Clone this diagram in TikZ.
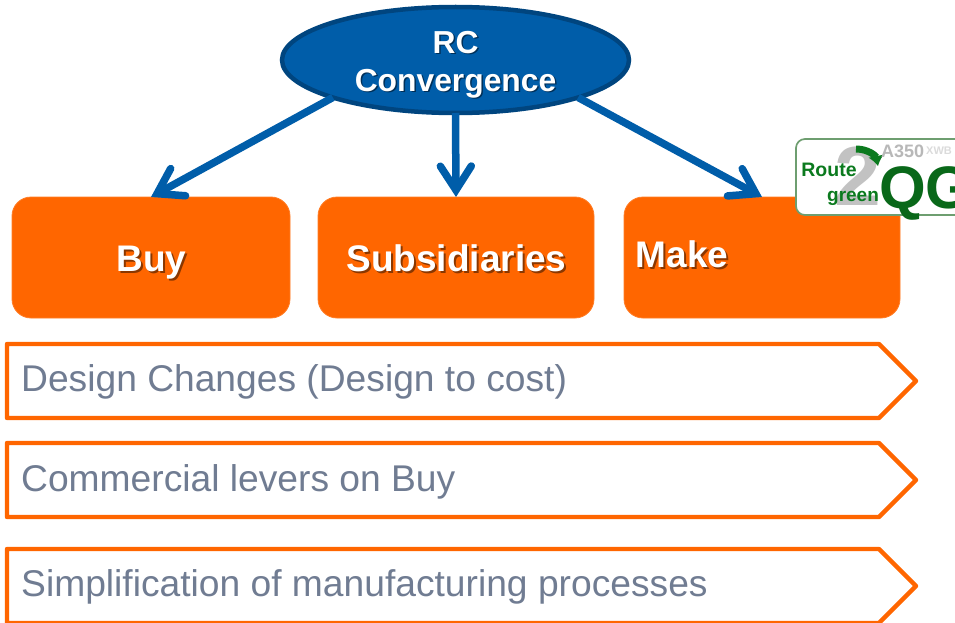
\documentclass[tikz,border=0pt]{standalone}
\usepackage{fontspec}
\setmainfont{Liberation Sans}
\usetikzlibrary{arrows.meta,shapes.geometric}
\definecolor{rcblue}{HTML}{005DA9}
\definecolor{rcedge}{HTML}{00457F}
\definecolor{boxorange}{HTML}{FF6600}
\definecolor{leverline}{HTML}{FF6600}
\definecolor{levertext}{HTML}{707C92}
\definecolor{logogreen}{HTML}{0B7A1E}
\definecolor{logoedge}{HTML}{6E9E70}
\tikzset{
  x=1pt,y=-1pt,
  link/.style={draw=rcblue,line width=7.5pt,-{Straight Barb[length=24pt,width=31pt,line width=7.5pt,line cap=round,line join=miter]}},
  bossbox/.style={ellipse,fill=rcblue,draw=rcedge,line width=4.5pt,minimum width=347pt,minimum height=106pt,inner sep=0pt,outer sep=0pt},
  orangebox/.style={rectangle,rounded corners=19pt,fill=boxorange,draw=boxorange!85!white,line width=.8pt,minimum height=121pt,inner sep=0pt,outer sep=0pt},
  boxtext/.style={font=\fontsize{37}{40}\selectfont\bfseries,text=white,inner sep=0pt,anchor=base},
  boxshadow/.style={font=\fontsize{37}{40}\selectfont\bfseries,text=black!65!boxorange,inner sep=0pt,opacity=.7,anchor=base},
  rctext/.style={font=\fontsize{31.8}{38}\selectfont\bfseries,text=white,inner sep=0pt,anchor=base},
  rcshadow/.style={font=\fontsize{31.8}{38}\selectfont\bfseries,text=rcedge!70!black,inner sep=0pt,anchor=base},
  lever/.style={draw=leverline,line width=4.4pt,line join=round,fill=white},
  levertxt/.style={font=\fontsize{37.2}{40}\selectfont,text=levertext,anchor=base west,inner sep=0pt},
}
\begin{document}
\begin{tikzpicture}
\useasboundingbox (0,0) rectangle (955,623);
% levers
\draw[lever] (7,344) -- (879,344) -- (916,381) -- (879,418) -- (7,418) -- cycle;
\draw[lever] (7,443) -- (879,443) -- (916,480) -- (879,517) -- (7,517) -- cycle;
\draw[lever] (7,549) -- (879,549) -- (916,586) -- (879,623) -- (7,623) -- cycle;
\node[levertxt] (t1) at (21,391) {Design Changes (Design to cost)};
\node[levertxt] (t2) at (21,491) {Commercial levers on Buy};
\node[levertxt] (t3) at (21,596) {Simplification of manufacturing processes};
% boxes
\node[orangebox,minimum width=278pt] (buy) at (151,257.5) {};
\node[orangebox,minimum width=276pt] (sub) at (456,257.5) {};
\node[orangebox,minimum width=276pt] (make) at (762,257.5) {};
\node[boxshadow] (buys) at (153.5,273) {Buy};
\node[boxtext] (buyt) at (151.5,271) {Buy};
\node[boxshadow] (subs) at (458.5,273.5) {Subsidiaries};
\node[boxtext] (subt) at (456.5,271.5) {Subsidiaries};
\node[boxshadow] (maks) at (684,269.5) {Make};
\node[boxtext] (makt) at (682,267.5) {Make};
% root
\node[bossbox] (rc) at (455.5,60) {};
\node[rcshadow] (rcs1) at (457,55) {RC};
\node[rcshadow] (rcs2) at (457,93) {Convergence};
\node[rctext] (rct1) at (455.5,53.5) {RC};
\node[rctext] (rct2) at (455.5,91.5) {Convergence};
% connectors
\draw[link] (rc.197) -- (buy.north);
\draw[link] (rc.south) -- (sub.north);
\draw[link] (rc.-17) -- (make.north);
% logo
\draw[draw=logoedge,line width=1.7pt,fill=white,rounded corners=9pt] (796,139) rectangle (985,215);
\node[font=\fontsize{84}{84}\selectfont\bfseries,text=black!24,inner sep=0pt] (two) at (858,176) {2};
\draw[draw=logogreen,line width=7pt,-{Latex[length=10pt,width=16pt]}] (856,149) .. controls (868,149) and (876,156) .. (878,166);
\node[font=\fontsize{19.5}{20}\selectfont\bfseries,text=logogreen,inner sep=0pt] (route) at (829,170) {Route};
\node[font=\fontsize{19}{20}\selectfont\bfseries,text=logogreen,inner sep=0pt] (green) at (853,198) {green};
\node[font=\fontsize{18}{18}\selectfont\bfseries,text=black!28,inner sep=0pt,anchor=west] (a350) at (881,151) {A350};
\node[font=\fontsize{11}{12}\selectfont\bfseries,text=black!14,inner sep=0pt,anchor=west] (xwb) at (926,151) {XWB};
\node[font=\fontsize{60}{60}\selectfont\bfseries,text=logogreen!85!black,inner sep=0pt,anchor=base west] (qg) at (879,208) {QG};
\end{tikzpicture}
\end{document}
